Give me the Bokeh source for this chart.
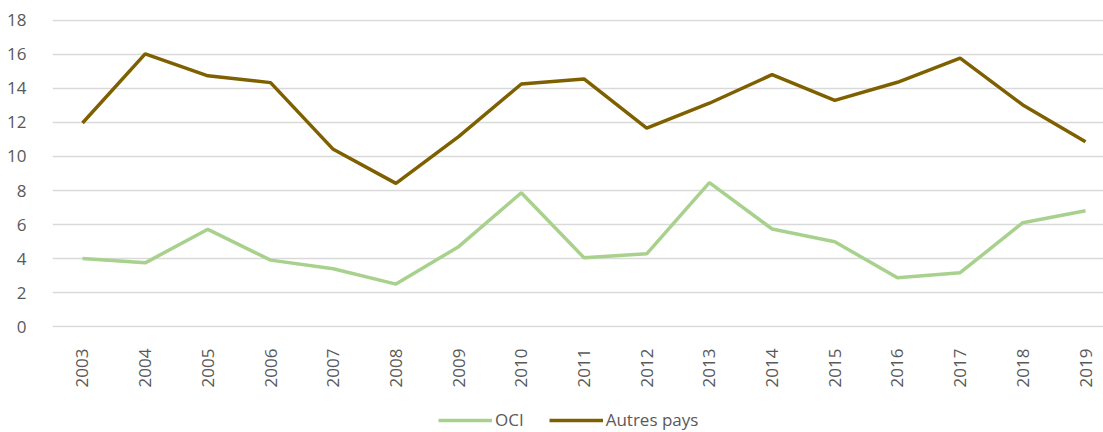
import math
from bokeh.plotting import figure
from bokeh.layouts import column
from bokeh.models import FixedTicker, Range1d, Legend, LegendItem
from bokeh.embed import file_html
from bokeh.resources import INLINE

years = list(range(2003, 2020))
oci = [4.01, 3.75, 5.72, 3.91, 3.40, 2.50, 4.70, 7.87, 4.05, 4.28, 8.46, 5.74, 4.99, 2.87, 3.17, 6.11, 6.81]
autres = [11.97, 16.03, 14.74, 14.34, 10.42, 8.42, 11.17, 14.26, 14.56, 11.66, 13.13, 14.81, 13.30, 14.36, 15.78, 13.03, 10.87]
y_ticks = list(range(0, 19, 2))
series_names = ["OCI", "Autres pays"]
series_colors = ["#A9D18E", "#7F6000"]

FONT = "Open Sans"
TXT = "#595959"

p = figure(width=1103, height=400, output_backend="svg", toolbar_location=None,
           x_range=Range1d(2002.5215, 2019.287), y_range=Range1d(-0.05, 18.05),
           min_border_left=52, min_border_right=0, min_border_top=19, min_border_bottom=73)
p.outline_line_color = None
p.background_fill_color = "white"

p.line(years, oci, line_color=series_colors[0], line_width=3.5)
p.line(years, autres, line_color=series_colors[1], line_width=3.5)

p.xgrid.grid_line_color = None
p.ygrid.grid_line_color = "#D9D9D9"
p.ygrid.grid_line_width = 1.3

p.yaxis.ticker = FixedTicker(ticks=y_ticks)
p.yaxis.axis_line_color = None
p.yaxis.major_tick_line_color = None
p.yaxis.minor_tick_line_color = None
p.yaxis.major_label_standoff = 20
p.yaxis.major_label_text_font = FONT
p.yaxis.major_label_text_font_size = "17px"
p.yaxis.major_label_text_color = TXT

p.xaxis.ticker = FixedTicker(ticks=years)
p.xaxis.axis_line_color = None
p.xaxis.major_tick_line_color = None
p.xaxis.minor_tick_line_color = None
p.xaxis.major_label_orientation = math.pi / 2
p.xaxis.major_label_standoff = 15
p.xaxis.major_label_text_font = FONT
p.xaxis.major_label_text_font_size = "17px"
p.xaxis.major_label_text_color = TXT

# legend strip below the chart (its frame is aligned with the chart's frame, x=52)
pl = figure(width=1103, height=32, output_backend="svg", toolbar_location=None,
            x_range=Range1d(0, 1), y_range=Range1d(0, 1),
            x_axis_type=None, y_axis_type=None,
            min_border_left=0, min_border_right=0, min_border_top=0, min_border_bottom=0)
pl.outline_line_color = None
pl.xgrid.grid_line_color = None
pl.ygrid.grid_line_color = None
lr = [pl.line([5, 6], [5, 5], line_color=c, line_width=3.5) for c in series_colors]

legend = Legend(items=[LegendItem(label=n, renderers=[r]) for n, r in zip(series_names, lr)],
                orientation="horizontal", location=(386, 1))
legend.border_line_color = None
legend.background_fill_alpha = 0
legend.label_text_font = FONT
legend.label_text_font_size = "17px"
legend.label_text_color = TXT
legend.glyph_width = 54
legend.label_standoff = 3
legend.spacing = 25
legend.padding = 0
legend.margin = 0
pl.add_layout(legend, "center")

layout = column(p, pl, spacing=0)
open("out.html", "w").write(file_html(layout, INLINE))
